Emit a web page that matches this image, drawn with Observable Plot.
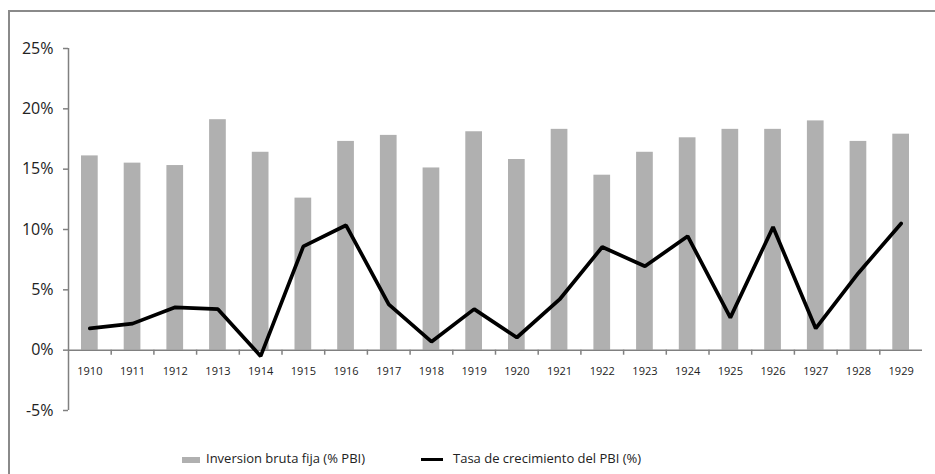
<!DOCTYPE html>
<html>
<head>
<meta charset="utf-8">
<script src="https://cdn.jsdelivr.net/npm/d3@7"></script>
<script src="https://cdn.jsdelivr.net/npm/@observablehq/plot@0.6"></script>
<style>
  html, body { margin: 0; padding: 0; background: #fff; overflow: hidden; width: 935px; height: 474px; }
  #frame { position: absolute; left: 8px; top: 10px; width: 1000px; height: 500px; border: 2px solid #8a8a8a; box-sizing: border-box; }
  #chart { position: absolute; left: 0; top: 0; }
  #legend { position: absolute; top: 448px; left: 0; width: 935px; font-family: "Open Sans", sans-serif; font-size: 13px; color: #222; }
  .item { position: absolute; top: 0; white-space: nowrap; line-height: 20px; }
  .sw { display: inline-block; vertical-align: middle; margin-right: 6px; }
</style>
</head>
<body>
<div id="frame"></div>
<div id="chart"></div>
<div id="legend">
  <div class="item" style="left:182px"><span class="sw" style="width:18px;height:6px;background:#b0b0b0"></span>Inversion bruta fija (% PBI)</div>
  <div class="item" style="left:421px"><span class="sw" style="width:22px;height:3px;background:#000;margin-right:10px"></span>Tasa de crecimiento del PBI (%)</div>
</div>
<script>
const years = [1910,1911,1912,1913,1914,1915,1916,1917,1918,1919,1920,1921,1922,1923,1924,1925,1926,1927,1928,1929];
const inversion = [16.1,15.5,15.3,19.1,16.4,12.6,17.3,17.8,15.1,18.1,15.8,18.3,14.5,16.4,17.6,18.3,18.3,19.0,17.3,17.9];
const crecimiento = [1.8,2.2,3.55,3.4,-0.5,8.6,10.35,3.8,0.7,3.4,1.05,4.2,8.55,6.95,9.45,2.7,10.2,1.8,6.4,10.5];
const yTicks = [-5,0,5,10,15,20,25];

const data = years.map((y, i) => ({year: y, inv: inversion[i], gr: crecimiento[i]}));
const boundaries = years.slice(1).map(y => y - 0.5);

const chart = Plot.plot({
  width: 935,
  height: 440,
  marginLeft: 68,
  marginRight: 13,
  marginTop: 48,
  marginBottom: 30,
  style: {fontFamily: "'Open Sans', sans-serif", color: "#222", background: "transparent"},
  x: {domain: [1909.5, 1929.5], axis: null},
  y: {domain: [-5, 25], axis: null},
  marks: [
    Plot.rectY(data, {x1: d => d.year - 0.5, x2: d => d.year + 0.5, y: "inv", fill: "#b0b0b0", insetLeft: 13, insetRight: 13}),
    Plot.ruleX([1909.5], {y1: -5, y2: 25, stroke: "#808080", strokeWidth: 1.5}),
    Plot.axisY({ticks: yTicks, tickFormat: d => `${d}%`, tickSize: 5, tickPadding: 10, fontSize: 16, stroke: "#808080", strokeWidth: 1.5, label: null}),
    Plot.ruleY([0], {x1: 1909.5, x2: 1929.5, stroke: "#808080", strokeWidth: 1.5}),
    Plot.ruleX(boundaries, {y1: 0, y2: -0.42, stroke: "#808080", strokeWidth: 1.5}),
    Plot.text(years, {x: d => d, y: 0, dy: 21, text: d => String(d), fontSize: 11, fill: "#222"}),
    Plot.line(data, {x: "year", y: "gr", stroke: "#000", strokeWidth: 3.7, strokeLinejoin: "miter"})
  ]
});
document.getElementById("chart").appendChild(chart);
</script>
</body>
</html>
